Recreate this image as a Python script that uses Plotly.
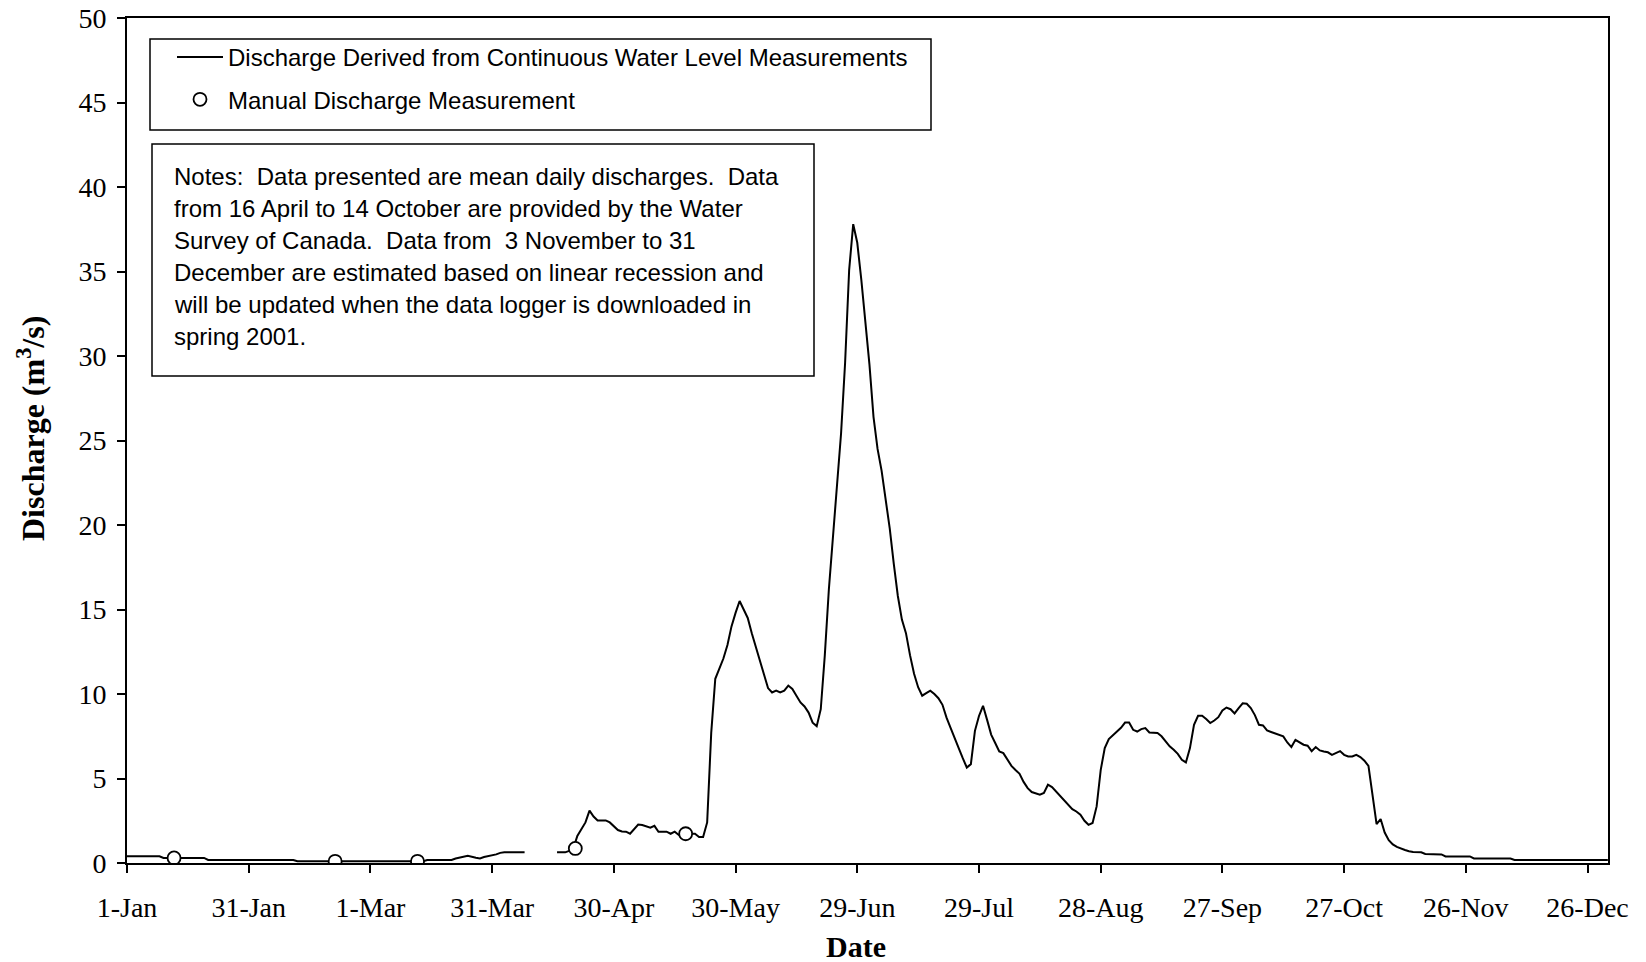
import pandas as pd
import plotly.graph_objects as go

BASE = "2000-01-01"

# Mean daily discharge (m3/s): day offset from 1-Jan-2000 and value; None marks the data gap
flow_day = [0, 8, 9, 19, 20, 41, 42, 73, 74, 80, 81, 83, 84, 86, 87, 88, 89, 90, 91, 92, 93, 98,
            99,
            106, 108, 109, 110, 111, 112, 113, 114, 115, 116, 118, 119, 120, 121, 122, 123, 124, 125,
            126, 127, 128, 129, 130, 131, 132, 133, 134, 135, 136, 137, 138, 139, 140, 141, 142, 143,
            144, 145, 146, 147, 148, 149, 150, 151, 152, 153, 154, 155, 156, 157, 158, 159, 160, 161,
            162, 163, 164, 165, 166, 167, 168, 169, 170, 171, 172, 173, 174, 175, 176, 177, 178, 179,
            180, 181, 182, 183, 184, 185, 186, 187, 188, 189, 190, 191, 192, 193, 194, 195, 196, 197,
            198, 199, 200, 201, 202, 203, 204, 205, 206, 207, 208, 209, 210, 211, 212, 213, 214, 215,
            216, 217, 218, 219, 220, 221, 222, 223, 224, 225, 226, 227, 228, 229, 230, 231, 232, 233,
            234, 235, 236, 237, 238, 239, 240, 241, 242, 243, 244, 245, 246, 247, 248, 249, 250, 251,
            252, 253, 254, 255, 256, 257, 258, 259, 260, 261, 262, 263, 264, 265, 266, 267, 268, 269,
            270, 271, 272, 273, 274, 275, 276, 277, 278, 279, 280, 281, 282, 283, 284, 285, 286, 287,
            288, 289, 290, 291, 292, 293, 294, 295, 296, 297, 298, 299, 300, 301, 302, 303, 304, 305,
            306, 307, 308, 309, 310, 311, 312, 313, 314, 315, 316, 317, 319, 320, 324, 325, 331, 332,
            341, 342, 365]
flow_q = [0.40, 0.40, 0.30, 0.30, 0.18, 0.18, 0.10, 0.10, 0.18, 0.18, 0.27, 0.35, 0.43, 0.31, 0.27,
          0.35, 0.39, 0.43, 0.51, 0.60, 0.63, 0.63,
          None,
          0.63, 0.63, 0.72, 0.85, 1.60, 2.00, 2.40, 3.10, 2.75, 2.52, 2.52, 2.40, 2.15, 1.95, 1.87,
          1.85, 1.73, 2.00, 2.28, 2.25, 2.15, 2.09, 2.20, 1.85, 1.85, 1.85, 1.73, 1.85, 1.66, 1.72,
          1.73, 1.73, 1.73, 1.54, 1.54, 2.40, 7.70, 10.9, 11.5, 12.1, 12.9, 14.0, 14.8, 15.5, 15.0,
          14.5, 13.6, 12.8, 12.1, 11.2, 10.35, 10.09, 10.2, 10.09, 10.2, 10.5, 10.3, 9.9, 9.5, 9.26,
          8.9, 8.3, 8.1, 9.1, 12.3, 16.2, 19.4, 22.3, 25.4, 29.6, 35.1, 37.8, 36.7, 34.5, 32.2, 29.5,
          26.4, 24.5, 23.2, 21.5, 19.8, 17.7, 15.8, 14.4, 13.6, 12.3, 11.2, 10.4, 9.9, 10.05, 10.2,
          10.0, 9.75, 9.36, 8.6, 8.0, 7.44, 6.8, 6.2, 5.65, 5.85, 7.82, 8.7, 9.3, 8.47, 7.6, 7.1, 6.6,
          6.5, 6.1, 5.75, 5.5, 5.28, 4.8, 4.43, 4.2, 4.1, 4.04, 4.14, 4.63, 4.49, 4.24, 3.95, 3.7,
          3.45, 3.19, 3.05, 2.86, 2.5, 2.26, 2.37, 3.35, 5.5, 6.8, 7.33, 7.55, 7.8, 8.0, 8.31, 8.31,
          7.88, 7.78, 7.92, 7.98, 7.72, 7.72, 7.69, 7.5, 7.2, 6.9, 6.7, 6.46, 6.11, 5.95, 6.8, 8.18,
          8.71, 8.71, 8.52, 8.28, 8.43, 8.63, 9.02, 9.2, 9.1, 8.85, 9.17, 9.45, 9.42, 9.17, 8.75,
          8.18, 8.14, 7.84, 7.75, 7.65, 7.55, 7.49, 7.13, 6.86, 7.29, 7.13, 7.0, 6.94, 6.62, 6.86,
          6.66, 6.6, 6.55, 6.4, 6.5, 6.62, 6.4, 6.3, 6.3, 6.4, 6.27, 6.05, 5.75, 4.14, 2.3, 2.6, 1.8,
          1.35, 1.1, 0.95, 0.85, 0.77, 0.70, 0.65, 0.63, 0.53, 0.51, 0.39, 0.39, 0.27, 0.27, 0.18,
          0.18]

# Manual discharge measurements
manual_day = [11.6, 51.3, 71.6, 110.5, 137.7]
manual_q = [0.30, 0.10, 0.10, 0.86, 1.73]

tick_dates = ["2000-01-01", "2000-01-31", "2000-03-01", "2000-03-31", "2000-04-30", "2000-05-30",
              "2000-06-29", "2000-07-29", "2000-08-28", "2000-09-27", "2000-10-27", "2000-11-26",
              "2000-12-26"]
tick_labels = ["1-Jan", "31-Jan", "1-Mar", "31-Mar", "30-Apr", "30-May", "29-Jun", "29-Jul",
               "28-Aug", "27-Sep", "27-Oct", "26-Nov", "26-Dec"]

legend_names = ["Discharge Derived from Continuous Water Level Measurements",
                "Manual Discharge Measurement"]

x_title = "<b>Date</b>"
y_title = "<b>Discharge (m<sup>3</sup>/s)</b>"

notes_lines = [
    "Notes:&nbsp; Data presented are mean daily discharges.&nbsp; Data",
    "from 16 April to 14 October are provided by the Water",
    "Survey of Canada.&nbsp; Data from &nbsp;3 November to 31",
    "December are estimated based on linear recession and",
    "will be updated when the data logger is downloaded in",
    "spring 2001.",
]


def to_dates(days):
    return [pd.Timestamp(BASE) + pd.to_timedelta(d, unit="D") for d in days]


W, H = 1646, 962
ML, MR, MT, MB = 127, 38, 18, 99
PW, PH = W - ML - MR, H - MT - MB


def px(x):
    return (x - ML) / PW


def py(y):
    return (H - MB - y) / PH


SANS = "Liberation Sans"
SERIF = "Liberation Serif"

fig = go.Figure()
fig.add_trace(go.Scatter(
    x=to_dates(flow_day), y=flow_q, mode="lines", name=legend_names[0],
    line=dict(color="black", width=2), connectgaps=False, legendgroup="a"))
fig.add_trace(go.Scatter(
    x=to_dates(manual_day), y=manual_q, mode="markers", name=legend_names[1],
    marker=dict(symbol="circle", size=13, color="white", line=dict(color="black", width=1.8)),
    legendgroup="b"))

shapes = [
    dict(type="rect", xref="paper", yref="paper", x0=px(150), x1=px(931), y0=py(130), y1=py(39),
         line=dict(color="black", width=1.5), fillcolor="white", layer="above"),
    dict(type="rect", xref="paper", yref="paper", x0=px(152), x1=px(814), y0=py(376), y1=py(144),
         line=dict(color="black", width=1.5), fillcolor="white", layer="above"),
]

annotations = []
for i, line in enumerate(notes_lines):
    annotations.append(dict(
        xref="paper", yref="paper", x=px(172), y=py(176.5 + i * 31.9), xanchor="left",
        yanchor="middle", text=line, showarrow=False, font=dict(family=SANS, size=24, color="black")))
annotations.append(dict(
    xref="paper", yref="paper", x=px(855.5), y=py(947), xanchor="center", yanchor="middle",
    text=x_title, showarrow=False, font=dict(family=SERIF, size=30, color="black")))
annotations.append(dict(
    xref="paper", yref="paper", x=px(31), y=py(429), xanchor="center", yanchor="middle",
    text=y_title, textangle=-90, showarrow=False, font=dict(family=SERIF, size=32, color="black")))

fig.update_layout(
    width=W, height=H,
    margin=dict(l=ML, r=MR, t=MT, b=MB, autoexpand=False),
    paper_bgcolor="white", plot_bgcolor="white",
    showlegend=True,
    legend=dict(x=px(172), y=py(35), xanchor="left", yanchor="top", bgcolor="rgba(0,0,0,0)",
                borderwidth=0, font=dict(family=SANS, size=24, color="black"),
                itemwidth=46, tracegroupgap=8),
    shapes=shapes,
    annotations=annotations,
    xaxis=dict(
        type="date", range=["2000-01-01", "2000-12-31 01:00"], automargin=False,
        tickmode="array", tickvals=tick_dates, ticktext=tick_labels,
        ticks="outside", ticklen=8, tickwidth=1.5, tickcolor="black",
        showline=True, linecolor="black", linewidth=2, mirror=True,
        showgrid=False, zeroline=False,
        tickfont=dict(family=SERIF, size=28, color="black"),
        ticklabelstandoff=10,
    ),
    yaxis=dict(
        range=[0, 50], dtick=5, tick0=0, automargin=False,
        ticks="outside", ticklen=8, tickwidth=1.5, tickcolor="black",
        showline=True, linecolor="black", linewidth=2, mirror=True,
        showgrid=False, zeroline=False,
        tickfont=dict(family=SERIF, size=28, color="black"),
        ticklabelstandoff=5,
    ),
)

fig.write_html(
    "out.html",
    config={"displayModeBar": False},
    post_script="document.body.style.margin='0';document.body.style.overflow='hidden';",
)
